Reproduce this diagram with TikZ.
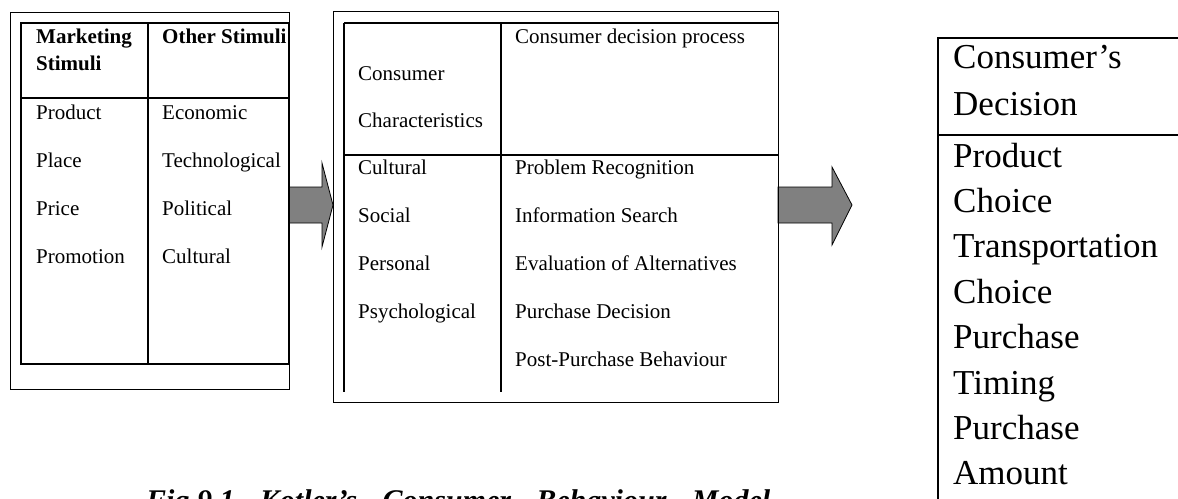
\documentclass[tikz,border=0pt]{standalone}
\usepackage{fontspec}
\setmainfont{Liberation Serif}

\tikzset{
  tbl/.style={line width=1.3pt},
  frame/.style={line width=0.9pt},
  txt/.style={anchor=base west, inner sep=0pt, font=\fontsize{21}{25}\selectfont},
  hdr/.style={txt, font=\fontsize{21}{25}\selectfont\bfseries},
  bigtxt/.style={anchor=base west, inner sep=0pt, font=\fontsize{35}{42}\selectfont},
  blockarrow/.style={fill=black!50, draw=black, line width=0.8pt, line join=miter},
}

\begin{document}
\begin{tikzpicture}[x=1pt,y=-1pt]
\useasboundingbox (0,0) rectangle (1178,498);
\clip (0,0) rectangle (1178,498);

\coordinate (stimR) at (289,205);
\coordinate (procL) at (333,205);
\coordinate (procR) at (778,205);
\coordinate (decL) at (852,205);

% arrows
\draw[blockarrow] (stimR) ++(0,-18) -- ++(33,0) -- ++(0,-24) -- (procL)
  -- ++(-11,42) -- ++(0,-24) -- ++(-33,0) -- cycle;
\draw[blockarrow] (procR) ++(0,-18) -- ++(54,0) -- ++(0,-20) -- (decL)
  -- ++(-20,40) -- ++(0,-22) -- ++(-54,0) -- cycle;

% stimuli
\draw[frame] (10,12) rectangle (289,389);
\draw[tbl] (21,23) rectangle (289,364);
\draw[tbl] (21,98) -- (289,98);
\draw[tbl] (148,23) -- (148,364);
\node[hdr] (mkt) at (36,43) {Marketing};
\node[hdr] (mkt2) at (36,70) {Stimuli};
\node[hdr] (oth) at (162,43) {Other Stimuli};
\foreach \word [count=\i] in {Product,Place,Price,Promotion}
  \node[txt] (mix\i) at (36,71+48*\i) {\word};
\foreach \word [count=\i] in {Economic,Technological,Political,Cultural}
  \node[txt] (env\i) at (162,71+48*\i) {\word};

% buyer's black box
\draw[frame] (333,11) rectangle (778,402);
\draw[tbl] (344,23) -- (778,23);
\draw[tbl] (344,155) -- (778,155);
\draw[tbl] (344,23) -- (344,392);
\draw[tbl] (501,23) -- (501,392);
\node[txt] (cc1) at (358,80) {Consumer};
\node[txt] (cc2) at (358,127) {Characteristics};
\node[txt] (cdp) at (515,43) {Consumer decision process};
\foreach \word [count=\i] in {Cultural,Social,Personal,Psychological}
  \node[txt] (chr\i) at (358,127+47.8*\i) {\word};
\foreach \word [count=\i] in {Problem Recognition,Information Search,
    Evaluation of Alternatives,Purchase Decision,Post-Purchase Behaviour}
  \node[txt] (stg\i) at (515,127+47.8*\i) {\word};

% buyer's decisions
\draw[tbl] (1190,38) -- (938,38) -- (938,510);
\draw[tbl] (938,135) -- (1190,135);
\node[bigtxt] (dec1) at (953,68) {Consumer's};
\node[bigtxt] (dec2) at (953,115) {Decision};
\foreach \word [count=\i] in {Product,Choice,Transportation,Choice,
    Purchase,Timing,Purchase,Amount}
  \node[bigtxt] (ch\i) at (953,121.6+45.4*\i) {\word};

\node[anchor=base west, inner sep=0pt, font=\fontsize{30}{36}\selectfont\bfseries\itshape]
  (cap) at (146,510) {\makebox[624pt][s]{Fig.9.1 Kotler's Consumer Behaviour Model}};

\end{tikzpicture}
\end{document}
